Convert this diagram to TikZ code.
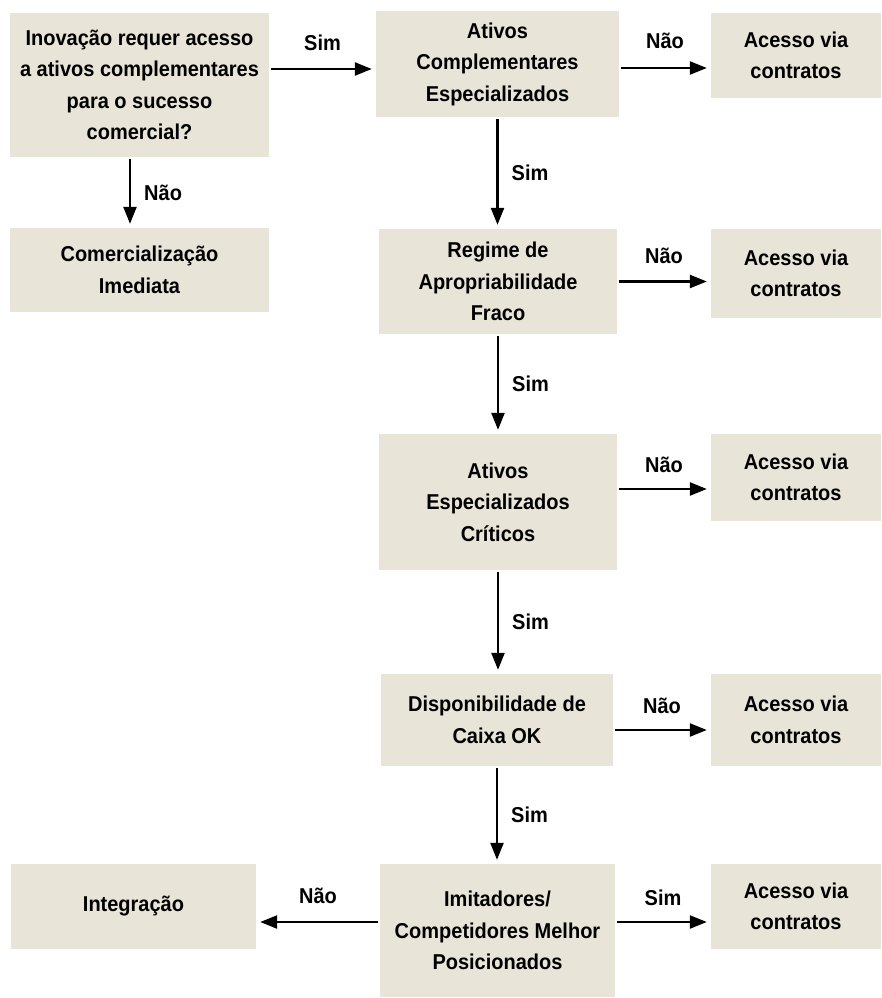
\documentclass[tikz,border=0pt]{standalone}
\usepackage{fontspec}
\usepackage{xcolor}
\usepackage{tikz}
\usetikzlibrary{arrows.meta}
\newfontfamily\diagfont[FakeStretch=0.93]{Liberation Sans Bold}
\definecolor{boxfill}{RGB}{232,229,216}
\tikzset{box/.style={fill=boxfill, align=center, inner sep=0pt},
  arr/.style={line width=2.4pt, -{Triangle[length=17pt,width=13pt]},
    shorten >=4pt, shorten <=2pt},
  lbl/.style={inner sep=0pt}}

\begin{document}
\begin{tikzpicture}[x=1pt,y=-1pt,font=\diagfont\fontsize{21.5}{31.5}\selectfont]
  \useasboundingbox (0,0) rectangle (881,998);

  \node[box, minimum width=259pt, minimum height=144pt] (inov) at (139.5,85) {Inovação requer acesso\\a ativos complementares\\para o sucesso\\comercial?};
  \node[box, minimum width=259pt, minimum height=84pt] (comerc) at (139.5,270) {Comercialização\\Imediata};
  \node[box, minimum width=243pt, minimum height=106pt] (compl) at (497.5,64) {Ativos\\Complementares\\Especializados};
  \node[box, minimum width=238pt, minimum height=105pt] (regime) at (498,281.5) {Regime de\\Apropriabilidade\\Fraco};
  \node[box, minimum width=238pt, minimum height=136pt] (criticos) at (498,502) {Ativos\\Especializados\\Críticos};
  \node[box, minimum width=232pt, minimum height=92pt] (caixa) at (497,720) {Disponibilidade de\\Caixa OK};
  \node[box, minimum width=235pt, minimum height=133pt] (imit) at (497.5,930.5) {Imitadores/\\Competidores Melhor\\Posicionados};
  \node[box, minimum width=245pt, minimum height=85pt] (integr) at (133.5,906.5) {Integração};

  \node[box, minimum width=170pt, minimum height=85pt] (contrA) at (796,55.5) {Acesso via\\contratos};
  \node[box, minimum width=170pt, minimum height=89pt] (contrB) at (796,273.5) {Acesso via\\contratos};
  \node[box, minimum width=170pt, minimum height=87pt] (contrC) at (796,477.5) {Acesso via\\contratos};
  \node[box, minimum width=170pt, minimum height=92pt] (contrD) at (796,720) {Acesso via\\contratos};
  \node[box, minimum width=170pt, minimum height=85pt] (contrE) at (796,906.5) {Acesso via\\contratos};

  \path[arr] ([yshift=16pt]inov.east) edge node[lbl, above=17pt] {Sim} ([yshift=16pt]inov.east -| compl.west);
  \path[arr] ([xshift=-9.5pt]inov.south) edge node[lbl, right=13pt] {Não} ([xshift=-9.5pt]inov.south |- comerc.north);

  \path[arr] ([yshift=-4pt]compl.east) edge node[lbl, above=18pt] {Não} ([yshift=-4pt]compl.east -| contrA.west);
  \path[arr] (regime.east) edge node[lbl, above=17pt] {Não} (regime.east -| contrB.west);
  \path[arr] ([yshift=13pt]criticos.east) edge node[lbl, above=15pt] {Não} ([yshift=13pt]criticos.east -| contrC.west);
  \path[arr] ([yshift=-10pt]caixa.east) edge node[lbl, above=15pt] {Não} ([yshift=-10pt]caixa.east -| contrD.west);
  \path[arr] ([yshift=8.5pt]imit.east) edge node[lbl, above=15pt] {Sim} ([yshift=8.5pt]imit.east -| contrE.west);
  \path[arr] ([yshift=8.5pt]imit.west) edge node[lbl, above=17pt] {Não} ([yshift=8.5pt]imit.west -| integr.east);

  \path[arr] (compl.south) edge node[lbl, right=13pt] {Sim} (compl.south |- regime.north);
  \path[arr] (regime.south) edge node[lbl, right=13pt] {Sim} (regime.south |- criticos.north);
  \path[arr] (criticos.south) edge node[lbl, right=13pt] {Sim} (criticos.south |- caixa.north);
  \path[arr] (caixa.south) edge node[lbl, right=13pt] {Sim} (caixa.south |- imit.north);

\end{tikzpicture}
\end{document}
